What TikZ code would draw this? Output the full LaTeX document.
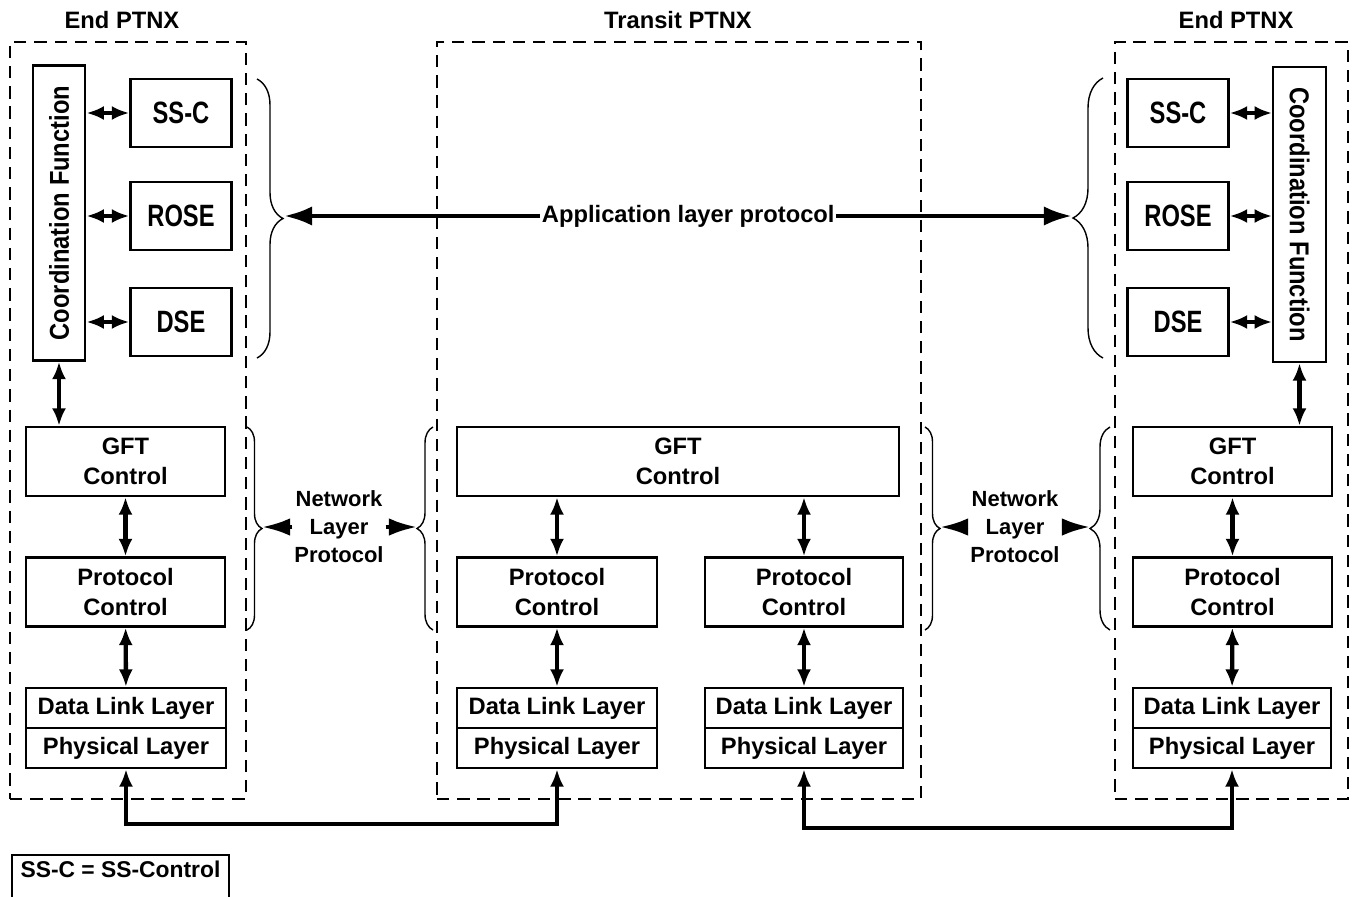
\documentclass[tikz,border=0pt]{standalone}
\usepackage{fontspec}
\setmainfont{Liberation Sans}
\usepackage{graphicx}
\usetikzlibrary{arrows.meta,decorations.pathreplacing}

\newcommand{\tallword}[1]{\scalebox{1}[1.3]{#1}}

\tikzstyle{ptnx} = [draw, line width=1.1pt, dash pattern=on 7pt off 4.5pt,
  rectangle, inner sep=0]
\tikzstyle{entity} = [draw, line width=1.3pt, rectangle, inner sep=0,
  minimum width=2.02cm, minimum height=1.36cm]
\tikzstyle{coordfn} = [draw, line width=1.3pt, rectangle, inner sep=0,
  minimum width=1.05cm, minimum height=5.9cm]
\tikzstyle{control} = [draw, line width=1.3pt, rectangle, inner sep=0,
  align=center, minimum width=3.98cm, minimum height=1.38cm]
\tikzstyle{layer} = [draw, line width=1.3pt, rectangle, inner sep=0,
  minimum width=4cm, minimum height=0.8cm]
\tikzstyle{pair} = [{Latex[length=10pt,width=8pt]}-{Latex[length=10pt,width=8pt]},
  line width=2.2pt]
\tikzstyle{updown} = [{Latex[length=10pt,width=8pt]}-{Latex[length=10pt,width=8pt]},
  line width=2.5pt]
\tikzstyle{appproto} = [{Latex[length=16pt,width=11pt]}-{Latex[length=16pt,width=11pt]},
  line width=2.5pt]
\tikzstyle{nettip} = [-{Latex[length=16pt,width=10pt]}, line width=2.2pt]
\tikzstyle{grouping} = [decorate, line width=0.8pt]

\begin{document}
\begin{tikzpicture}[x=0.02cm, y=-0.02cm,
    every node/.style={font=\fontsize{13.5}{17}\selectfont\bfseries}]
        \clip (0,0) rectangle (1358,896);

        % PTNX frames
        \node [ptnx, minimum width=4.72cm, minimum height=15.14cm] (ptnx1) at (128,420.5) {};
        \node [ptnx, minimum width=9.68cm, minimum height=15.14cm] (ptnx2) at (679,420.5) {};
        \node [ptnx, minimum width=4.66cm, minimum height=15.14cm] (ptnx3) at (1231.5,420.5) {};
        \node (title1) at (122,20)  {End PTNX};
        \node (title2) at (678,20)  {Transit PTNX};
        \node (title3) at (1236,20) {End PTNX};

        % left end PTNX
        \node [coordfn] (coord1) at (59,213)
          {\rotatebox{90}{\scalebox{1}[1.15]{Coordination Function}}};
        \node [entity]  (ssc1)   at (181,113) {\tallword{SS-C}};
        \node [entity]  (rose1)  at (181,216) {\tallword{ROSE}};
        \node [entity]  (dse1)   at (181,322) {\tallword{DSE}};
        \node [control] (gft1)   at (125.5,461.5) {GFT\\Control};
        \node [control] (prot1)  at (125.5,592)   {Protocol\\Control};
        \node [layer]   (dll1)   at (126,708) {Data Link Layer};
        \node [layer]   (phy1)   at (126,748) {Physical Layer};

        % transit PTNX
        \node [control, minimum width=8.84cm] (gft2) at (678,461.5) {GFT\\Control};
        \node [control, minimum width=4cm]    (prot2a) at (557,592) {Protocol\\Control};
        \node [control, minimum width=3.96cm] (prot2b) at (804,592) {Protocol\\Control};
        \node [layer]   (dll2a) at (557,708) {Data Link Layer};
        \node [layer]   (phy2a) at (557,748) {Physical Layer};
        \node [layer, minimum width=3.96cm] (dll2b) at (804,708) {Data Link Layer};
        \node [layer, minimum width=3.96cm] (phy2b) at (804,748) {Physical Layer};

        % right end PTNX
        \node [coordfn] (coord3) at (1299.5,214.5)
          {\rotatebox{-90}{\scalebox{1}[1.15]{Coordination Function}}};
        \node [entity]  (ssc3)   at (1178,113) {\tallword{SS-C}};
        \node [entity]  (rose3)  at (1178,216) {\tallword{ROSE}};
        \node [entity]  (dse3)   at (1178,322) {\tallword{DSE}};
        \node [control] (gft3)   at (1232.5,461.5) {GFT\\Control};
        \node [control] (prot3)  at (1232.5,592)   {Protocol\\Control};
        \node [layer, minimum width=3.96cm] (dll3) at (1232,708) {Data Link Layer};
        \node [layer, minimum width=3.96cm] (phy3) at (1232,748) {Physical Layer};

        % arrows inside the PTNX
        \foreach \ent in {ssc1,rose1,dse1}
          \draw [pair] (coord1.east |- \ent.west) -- (\ent.west);
        \foreach \ent in {ssc3,rose3,dse3}
          \draw [pair] (\ent.east) -- (\ent.east -| coord3.west);
        \draw [updown] (coord1.south) -- (coord1.south |- gft1.north);
        \draw [updown] (coord3.south) -- (coord3.south |- gft3.north);
        \draw [updown] (gft1) -- (prot1);
        \draw [updown] (prot1) -- (dll1);
        \draw [updown] (gft3) -- (prot3);
        \draw [updown] (prot3) -- (dll3);
        \draw [updown] (prot2a.north |- gft2.south) -- (prot2a.north);
        \draw [updown] (prot2b.north |- gft2.south) -- (prot2b.north);
        \draw [updown] (prot2a) -- (dll2a);
        \draw [updown] (prot2b) -- (dll2b);

        % physical links
        \draw [updown] (phy1.south) -- ++(0,55) -| (phy2a.south);
        \draw [updown] (phy2b.south) -- ++(0,59) -| (phy3.south);

        % application layer protocol
        \draw [grouping, decoration={brace, amplitude=0.52cm}] (257,79) -- (257,358);
        \draw [grouping, decoration={brace, amplitude=0.6cm}] (1103,358) -- (1103,78);
        \coordinate (app1) at (284,216);
        \coordinate (app3) at (1072,216);
        \draw [appproto] (app1) -- node [pos=0.513, fill=white, inner sep=1pt] (app)
          {Application layer protocol} (app3);

        % network layer protocol
        \draw [grouping, decoration={brace, amplitude=0.3cm}]  (247,427) -- (247,630);
        \draw [grouping, decoration={brace, amplitude=0.32cm}] (433,630) -- (433,427);
        \draw [grouping, decoration={brace, amplitude=0.3cm}]  (925,427) -- (925,630);
        \draw [grouping, decoration={brace, amplitude=0.4cm}]  (1110,630) -- (1110,427);
        \coordinate (nb1) at (262,527);
        \coordinate (nb2) at (417,527);
        \coordinate (nb3) at (940,527);
        \coordinate (nb4) at (1090,527);
        \node [align=center, inner sep=1pt, font=\fontsize{12.5}{15.9}\selectfont\bfseries]
          (net1) at (339,527) {Network\\Layer\\Protocol};
        \node [align=center, inner sep=1pt, font=\fontsize{12.5}{15.9}\selectfont\bfseries]
          (net2) at (1015,527) {Network\\Layer\\Protocol};
        \draw [nettip] (net1.west) -- (nb1);
        \draw [nettip] (net1.east) -- (nb2);
        \draw [nettip] (net2.west) -- (nb3);
        \draw [nettip] (net2.east) -- (nb4);

        % legend
        \node [minimum width=4.34cm, minimum height=0.56cm, inner sep=0,
          font=\fontsize{13}{16}\selectfont\bfseries] (legend)
          at (120.5,869) {SS-C = SS-Control};
        \draw [line width=1.3pt] (legend.north west) rectangle ([yshift=-1.5cm]legend.south east);
      \end{tikzpicture}
\end{document}
